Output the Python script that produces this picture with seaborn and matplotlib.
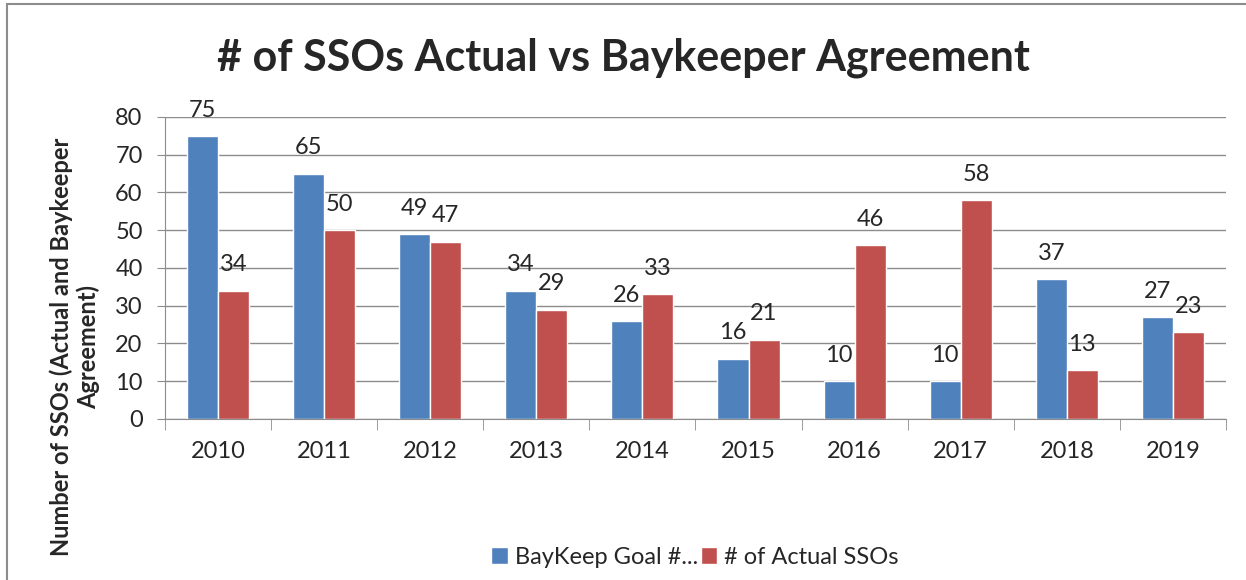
import matplotlib
matplotlib.use("Agg")
import matplotlib.pyplot as plt
import seaborn as sns
import pandas as pd
from matplotlib.patches import Rectangle
from matplotlib.ticker import MultipleLocator

years = ["2010", "2011", "2012", "2013", "2014", "2015", "2016", "2017", "2018", "2019"]
goal = [75, 65, 49, 34, 26, 16, 10, 10, 37, 27]
actual = [34, 50, 47, 29, 33, 21, 46, 58, 13, 23]
series = ["BayKeep Goal #...", "# of Actual SSOs"]

df = pd.DataFrame({
    "Year": years * 2,
    "Count": goal + actual,
    "Series": [series[0]] * len(years) + [series[1]] * len(years),
})

sns.set_style("white")
plt.rcParams["font.family"] = ["Lato", "DejaVu Sans"]

fig = plt.figure(figsize=(12.46, 5.8), dpi=100)
ax = fig.add_axes([0.1324, 0.2776, 0.8515, 0.5207])

sns.barplot(data=df, x="Year", y="Count", hue="Series",
            palette=["#4f81bd", "#c0504d"], width=0.585, ax=ax,
            saturation=1, legend=True)

for c in ax.containers:
    ax.bar_label(c, fontsize=17, padding=11)

ax.set_ylim(0, 80)
ax.set_xlim(-0.5, len(years) - 0.5)
ax.yaxis.set_major_locator(MultipleLocator(10))
ax.grid(axis="y", color="#8c8c8c", linewidth=1)
ax.set_axisbelow(True)
for s in ["top", "right"]:
    ax.spines[s].set_visible(False)
ax.spines["left"].set_color("#8c8c8c")
ax.spines["bottom"].set_color("#8c8c8c")

ax.tick_params(axis="y", labelsize=17, length=6, color="#8c8c8c", left=True, pad=10)
ax.tick_params(axis="x", which="major", labelsize=17, length=0, pad=16)
ax.set_xticks([i - 0.5 for i in range(len(years) + 1)], minor=True)
ax.tick_params(axis="x", which="minor", length=8, color="#8c8c8c", bottom=True)

ax.set_xlabel("")
ax.set_ylabel("Number of SSOs (Actual and Baykeeper\nAgreement)", fontsize=17)
ax.yaxis.label.set_fontweight("bold")
ax.yaxis.label.set_verticalalignment("center")
ax.yaxis.set_label_coords(-0.085, 0.24)

fig.suptitle("# of SSOs Actual vs Baykeeper Agreement", fontsize=31,
             fontweight="bold", x=0.5, y=0.9, va="center")

ax.legend(loc="center", bbox_to_anchor=(695 / 1246, 1 - 557 / 580), bbox_transform=fig.transFigure,
          ncol=2, frameon=False, fontsize=17, handlelength=0.7, handleheight=0.7,
          columnspacing=0.1, handletextpad=0.3)

fig.patches.append(Rectangle((7 / 1246, -0.1), 1.2, 1 - 4 / 580 + 0.1,
                             transform=fig.transFigure, fill=False,
                             edgecolor="#8c8c8c", linewidth=1.5))

fig.savefig("out.png", dpi=100)
